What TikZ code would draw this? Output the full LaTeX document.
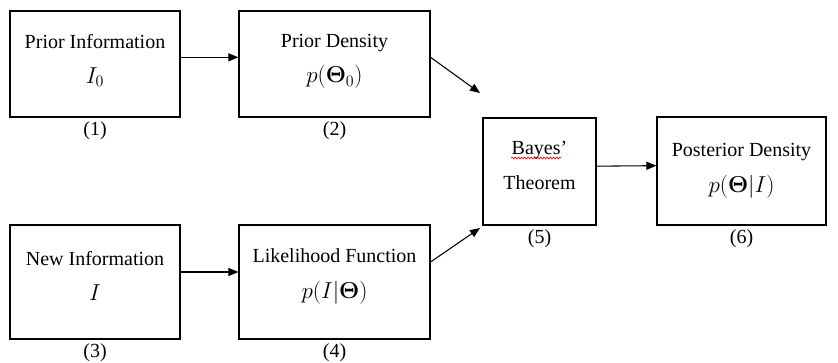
\documentclass[tikz,border=0pt]{standalone}
\usepackage[no-math]{fontspec}
\setmainfont{Liberation Serif}
\usetikzlibrary{positioning,arrows.meta,decorations.pathmorphing}

\newcommand{\mth}[1]{{\fontsize{17}{18}\selectfont$#1$}}

\tikzset{
  blk/.style={draw,line width=0.9pt,align=center,inner sep=0pt},
  arr/.style={-{Triangle[length=7.5pt,width=6pt]},line width=0.8pt},
  num/.style={inner sep=0pt}
}

\begin{document}
\begin{tikzpicture}[x=0.75pt,y=-0.75pt,font=\fontsize{15}{18}\selectfont]
  \useasboundingbox (0,0) rectangle (838,363);
  % boxes
  \node[blk,minimum width=127.5pt,minimum height=79.5pt,text depth=8pt] (prior) at (95,64)
    {Prior Information\\[8pt]\mth{I_0}};
  \node[blk,minimum width=143.25pt,minimum height=79.5pt,text depth=8pt] (dens) at (334.5,64)
    {Prior Density\\[8pt]\mth{p(\mathbf{\Theta}_0)}};
  \node[blk,minimum width=127.5pt,minimum height=85.5pt,text depth=9pt] (newinfo) at (95,282)
    {New Information\\[8pt]\mth{I}};
  \node[blk,minimum width=143.25pt,minimum height=85.5pt,text depth=12pt] (like) at (334.5,282)
    {Likelihood Function\\[9pt]\mth{p(I|\mathbf{\Theta})}};
  \node[blk,minimum width=84.75pt,minimum height=80.25pt,text depth=9pt] (bayes) at (539.5,171.5)
    {Bayes'\\[8pt]Theorem};
  \node[blk,minimum width=126.75pt,minimum height=81pt] (post) at (741.5,171)
    {Posterior Density\\[9pt]\mth{p(\mathbf{\Theta}|I)}};
  % spell-check squiggle
  \draw[red,line width=0.5pt,decorate,decoration={snake,amplitude=0.7pt,segment length=2.4pt}]
    (511,158) -- (561,158);
  % numbers
  \node[num,below=3pt of prior] (n1) {(1)};
  \node[num,below=3pt of dens] (n2) {(2)};
  \node[num,below=3pt of newinfo] (n3) {(3)};
  \node[num,below=3pt of like] (n4) {(4)};
  \node[num,below=3pt of bayes] (n5) {(5)};
  \node[num,below=3pt of post] (n6) {(6)};
  % arrows
  \coordinate (inA) at (480,93);
  \coordinate (inB) at (480,228);
  \draw[arr] ([yshift=5pt]prior.east) -- ([yshift=5pt]dens.west);
  \draw[arr] ([yshift=5pt]dens.east) -- (inA);
  \draw[arr] ([yshift=7.5pt]newinfo.east) -- ([yshift=7.5pt]like.west);
  \draw[arr] ([yshift=15pt]like.east) -- (inB);
  \draw[arr] ([yshift=4pt]bayes.east) -- ([yshift=4pt]post.west);
\end{tikzpicture}
\end{document}
